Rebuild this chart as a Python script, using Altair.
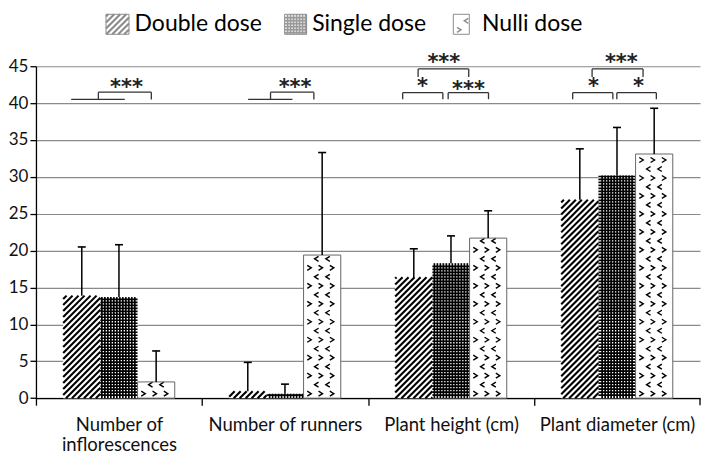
import math
import json
import altair as alt
import pandas as pd

# ---------------- data ----------------
categories = ["Number of inflorescences", "Number of runners", "Plant height (cm)", "Plant diameter (cm)"]
category_lines = [["Number of", "inflorescences"], ["Number of runners"], ["Plant height (cm)"], ["Plant diameter (cm)"]]
groups = ["Double dose", "Single dose", "Nulli dose"]

double_mean = [13.9, 0.95, 16.4, 26.9]
double_sd = [6.6, 3.9, 3.85, 6.9]
single_mean = [13.7, 0.6, 18.3, 30.2]
single_sd = [7.1, 1.3, 3.7, 6.5]
nulli_mean = [2.2, 19.4, 21.7, 33.1]
nulli_sd = [4.2, 13.9, 3.7, 6.2]

y_ticks = [0, 5, 10, 15, 20, 25, 30, 35, 40, 45]

# significance annotations (x in category units, y in axis units)
sig_line_x = [0.212, 1.278]
sig_line_x2 = [0.535, 1.545]
sig_line_y = [40.5, 40.5]

bracket_x = [0.376, 1.413, 2.209, 2.483, 2.302, 3.233, 3.499, 3.350]
bracket_x2 = [0.695, 1.674, 2.451, 2.726, 2.607, 3.475, 3.737, 3.657]
bracket_top = [41.48, 41.48, 41.42, 41.42, 44.63, 41.42, 41.42, 44.63]
bracket_foot = [40.5, 40.5, 40.53, 40.53, 43.55, 40.53, 40.53, 43.55]

star_x = [0.545, 1.561, 2.328, 2.605, 2.457, 3.358, 3.630, 3.526]
star_y = [42.6, 42.6, 42.8, 42.45, 46.0, 42.8, 42.8, 46.0]
star_text = ["***", "***", "*", "***", "***", "*", "*", "***"]

# legend layout (category units / axis units)
legend_x = [0.422, 1.498, 2.514]
legend_w_px = [23, 22, 16]
legend_text_x = [0.594, 1.664, 2.687]
legend_top = 52.04
legend_bottom = 49.33
legend_mid = 50.69

# ---------------- geometry helpers ----------------
W, H = 665, 332.4
NC = len(categories)
YMAX = 45
PXU = W / NC
PYU = H / YMAX
BAR = 0.224

means = [double_mean, single_mean, nulli_mean]
sds = [double_sd, single_sd, nulli_sd]

bars = []
for g, name in enumerate(groups):
    for i in range(NC):
        x0 = i + 0.5 + (g - 1.5) * BAR
        bars.append(dict(group=name, g=g, x=x0, x2=x0 + BAR, xc=x0 + BAR / 2,
                         y0=0.0, y=means[g][i], top=means[g][i] + sds[g][i]))
bars_df = pd.DataFrame(bars)


def hatch(x0, x1, y0, y1, color, step=6.0):
    X0, X1, Y0, Y1 = x0 * PXU, x1 * PXU, y0 * PYU, y1 * PYU
    out = []
    k = math.floor((Y0 - X1) / step) * step
    while k <= Y1 - X0:
        us = max(X0, Y0 - k)
        ue = min(X1, Y1 - k)
        if ue - us > 0.4:
            out.append(dict(x=us / PXU, x2=ue / PXU, y=(us + k) / PYU, y2=(ue + k) / PYU, c=color))
        k += step
    return out


def checker(x0, x1, y0, y1, color, period=3.0, half=0.85):
    X0, X1, Y0, Y1 = x0 * PXU, x1 * PXU, y0 * PYU, y1 * PYU
    out = []
    n = math.ceil(Y0 / period)
    while n * period <= Y1 - half:
        py = n * period
        if py >= Y0 + half:
            out.append(dict(x=x0, x2=x1, y=py / PYU, y2=py / PYU, c=color))
        n += 1
    n = math.ceil(X0 / period)
    while n * period <= X1 - half:
        px = n * period
        if px >= X0 + half:
            out.append(dict(x=px / PXU, x2=px / PXU, y=y0, y2=y1, c=color))
        n += 1
    return out


def chevrons(x0, x1, y0, y1, color):
    X0, X1, Y0, Y1 = x0 * PXU, x1 * PXU, y0 * PYU, y1 * PYU
    out = []
    r = 0
    while True:
        py = Y0 + 4.5 + 9 * r
        if py > Y1 - 2.0:
            break
        kind = ">" if r % 2 == 0 else "<"
        start = 5.7 if kind == ">" else 13.0
        px = X0 + start
        while px <= X1 - 2.2:
            out.append(dict(x=px / PXU, y=py / PYU, k=kind, c=color))
            px += 11.3
        r += 1
    return out


hatch_rows, check_rows, chev_rows = [], [], []
for b in bars:
    if b["g"] == 0:
        hatch_rows += hatch(b["x"], b["x2"], 0.0, b["y"], "black")
    elif b["g"] == 1:
        check_rows += checker(b["x"], b["x2"], 0.0, b["y"], "black")
    else:
        chev_rows += chevrons(b["x"], b["x2"], 0.0, b["y"], "black")

# legend swatches
leg = []
for j, name in enumerate(groups):
    lx = legend_x[j]
    lx2 = lx + legend_w_px[j] / PXU
    leg.append(dict(group=name, x=lx, x2=lx2, y=legend_bottom, y2=legend_top, tx=legend_text_x[j], ty=legend_mid))
    if j == 0:
        hatch_rows += hatch(lx, lx2, legend_bottom, legend_top, "#8c8c8c")
    elif j == 1:
        check_rows += checker(lx, lx2, legend_bottom, legend_top, "#9a9a9a")
    else:
        chev_rows += chevrons(lx, lx2, legend_bottom, legend_top, "#8c8c8c")
leg_df = pd.DataFrame(leg)

hatch_df = pd.DataFrame(hatch_rows)
check_df = pd.DataFrame(check_rows)
chev_df = pd.DataFrame(chev_rows)

cap = 4.0 / PXU
err_df = bars_df.assign(cl=bars_df["xc"] - cap, cr=bars_df["xc"] + cap)

sig_df = pd.DataFrame(dict(x=sig_line_x, x2=sig_line_x2, y=sig_line_y))
br = []
for a, b2, t, f in zip(bracket_x, bracket_x2, bracket_top, bracket_foot):
    br.append(dict(x=a, x2=b2, y=t, y2=t))
    br.append(dict(x=a, x2=a, y=f, y2=t))
    br.append(dict(x=b2, x2=b2, y=f, y2=t))
br_df = pd.DataFrame(br)
star_df = pd.DataFrame(dict(x=star_x, y=star_y, t=star_text))

# closing tick at the right end of the category axis
end_tick_df = pd.DataFrame(dict(x=[NC], y=[0.0], y2=[-7.0 / PYU]))

# ---------------- scales & axes ----------------
x_scale = alt.Scale(domain=[0, NC], nice=False, zero=False)
y_scale = alt.Scale(domain=[0, YMAX], nice=False)

label_expr = f"{json.dumps(category_lines)}[datum.value]"
x_axis = alt.Axis(values=list(range(NC)), labelExpr=label_expr, labelOffset=PXU / 2,
                  labelFlush=False, labelOverlap=False, labelBound=False,
                  labelAlign="center", labelBaseline="top", labelPadding=10, labelLineHeight=20,
                  labelFont="Lato", labelFontSize=18.5, labelColor="#111111",
                  tickColor="#000000", tickSize=7, tickWidth=1.3,
                  domainColor="#000000", domainWidth=1.3, grid=False, title=None)
y_axis = alt.Axis(values=y_ticks, grid=True, gridColor="#8a8a8a", gridWidth=1.2,
                  domainColor="#000000", domainWidth=1.3, tickColor="#000000", tickSize=6,
                  tickWidth=1.3, labelFont="Lato", labelFontSize=17, labelPadding=2,
                  labelColor="#111111", title=None)


def X(f):
    return alt.X(f, type="quantitative", scale=x_scale, axis=x_axis)


def Y(f):
    return alt.Y(f, type="quantitative", scale=y_scale, axis=y_axis)


layers = []
layers.append(alt.Chart(bars_df).mark_rect(fill="white", strokeWidth=0).encode(
    x=X("x"), x2="x2", y=Y("y0"), y2="y"))
layers.append(alt.Chart(hatch_df).mark_rule(strokeWidth=2.1).encode(
    x=X("x"), x2="x2", y=Y("y"), y2="y2", color=alt.Color("c:N", scale=None)))
layers.append(alt.Chart(check_df).mark_rule(strokeWidth=1.7).encode(
    x=X("x"), x2="x2", y=Y("y"), y2="y2", color=alt.Color("c:N", scale=None)))
layers.append(alt.Chart(chev_df).transform_filter(alt.datum.k == ">").mark_point(
    shape="M-0.8,-1L0.8,0L-0.8,1", filled=False, size=25, strokeWidth=1.4, opacity=1).encode(
    x=X("x"), y=Y("y"), color=alt.Color("c:N", scale=None)))
layers.append(alt.Chart(chev_df).transform_filter(alt.datum.k == "<").mark_point(
    shape="M0.8,-1L-0.8,0L0.8,1", filled=False, size=25, strokeWidth=1.4, opacity=1).encode(
    x=X("x"), y=Y("y"), color=alt.Color("c:N", scale=None)))
layers.append(alt.Chart(bars_df).transform_filter(alt.datum.g == 2).mark_rect(
    fillOpacity=0, stroke="#666666", strokeWidth=1).encode(
    x=X("x"), x2="x2", y=Y("y0"), y2="y"))
# error bars
layers.append(alt.Chart(err_df).mark_rule(color="black", strokeWidth=1.5).encode(
    x=X("xc"), y=Y("y"), y2="top"))
layers.append(alt.Chart(err_df).mark_rule(color="black", strokeWidth=1.6).encode(
    x=X("cl"), x2="cr", y=Y("top")))
# end tick
layers.append(alt.Chart(end_tick_df).mark_rule(color="black", strokeWidth=1.3).encode(
    x=X("x"), y=Y("y"), y2="y2"))
# significance
layers.append(alt.Chart(sig_df).mark_rule(color="#333333", strokeWidth=1.3).encode(
    x=X("x"), x2="x2", y=Y("y")))
layers.append(alt.Chart(br_df).mark_rule(color="#333333", strokeWidth=1.3).encode(
    x=X("x"), x2="x2", y=Y("y"), y2="y2"))
layers.append(alt.Chart(star_df).mark_text(font="DejaVu Sans", fontSize=21, fontWeight="bold",
                                           align="center", baseline="alphabetic", dy=10.5,
                                           color="#222222").encode(
    x=X("x"), y=Y("y"), text="t:N"))
# legend
layers.append(alt.Chart(leg_df).mark_rect(fillOpacity=0, stroke="#8c8c8c", strokeWidth=1).encode(
    x=X("x"), x2="x2", y=Y("y"), y2="y2"))
layers.append(alt.Chart(leg_df).mark_text(font="Lato", fontSize=23, align="left",
                                          baseline="middle", color="#000000").encode(
    x=X("tx"), y=Y("ty"), text="group:N"))

chart = alt.layer(*layers).properties(
    width=W, height=H, padding={"top": 4, "left": 0, "right": 0, "bottom": 0}
).configure_view(stroke=None)

chart.save("out.html", embed_options={"renderer": "svg", "actions": False})
